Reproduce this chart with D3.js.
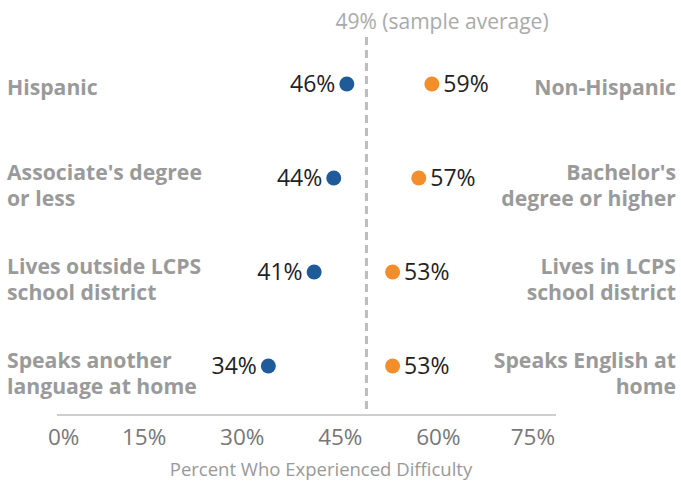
<!DOCTYPE html>
<html>
<head>
<meta charset="utf-8">
<script src="https://cdn.jsdelivr.net/npm/d3@7"></script>
<style>
  html, body { margin: 0; padding: 0; background: #fff; }
  svg { display: block; font-family: "Open Sans", sans-serif; }
</style>
</head>
<body>
<svg id="chart" width="681" height="481"></svg>
<script>
// Share of respondents who experienced difficulty, paired by demographic split
const leftLabels = [["Hispanic"], ["Associate's degree", "or less"], ["Lives outside LCPS", "school district"], ["Speaks another", "language at home"]];
const rightLabels = [["Non-Hispanic"], ["Bachelor's", "degree or higher"], ["Lives in LCPS", "school district"], ["Speaks English at", "home"]];
const leftValues = [46, 44, 41, 34];
const rightValues = [59, 57, 53, 53];
const sampleAverage = 49;
const tickValues = [0, 15, 30, 45, 60, 75];
const titleText = "Comparison of Difficulty by Group Background";
const axisTitle = "Percent Who Experienced Difficulty";

const svg = d3.select("#chart");

const x = d3.scaleLinear().domain([0, 75]).range([46, 536.5]);
const y = d3.scalePoint().domain(d3.range(leftValues.length)).range([84, 366]);
const axisY = 415;
const axisExtent = [57, 556];

const blue = "#1f5b99", orange = "#f28e2b";

// Title (runs off the top edge)
svg.append("text")
  .attr("x", 0).attr("y", -6)
  .attr("font-size", 24).attr("font-weight", 700).attr("fill", "#333")
  .text(titleText);

// Sample average reference line
svg.append("line")
  .attr("x1", x(sampleAverage)).attr("x2", x(sampleAverage))
  .attr("y1", 37).attr("y2", 413)
  .attr("stroke", "#bdbdbd").attr("stroke-width", 3)
  .attr("stroke-dasharray", "8,5");
svg.append("text")
  .attr("x", x(sampleAverage) - 31).attr("y", 29)
  .attr("font-size", 21).attr("fill", "#aaa")
  .text(`${sampleAverage}% (sample average)`);

// Axis baseline and tick labels
svg.append("line")
  .attr("x1", axisExtent[0]).attr("x2", axisExtent[1])
  .attr("y1", axisY).attr("y2", axisY)
  .attr("stroke", "#cfcfcf").attr("stroke-width", 2);

const tickG = svg.append("g");
tickValues.forEach(v => {
  const t = tickG.append("text")
    .attr("y", 445).attr("font-size", 22.5).attr("fill", "#777")
    .attr("text-anchor", "middle")
    .text(v + "%");
  const w = t.node().getComputedTextLength();
  // keep labels within the axis span
  let cx = x(v);
  cx = Math.max(cx, 48 + w / 2);
  cx = Math.min(cx, 555 - w / 2);
  t.attr("x", cx);
});

svg.append("text")
  .attr("x", 321).attr("y", 476)
  .attr("text-anchor", "middle").attr("font-size", 18.5).attr("fill", "#999")
  .text(axisTitle);

// Category labels on both sides
function drawLabels(labels, xPos, anchor) {
  labels.forEach((lines, i) => {
    const first = y(i) + 4 - (lines.length - 1) * 9;
    const t = svg.append("text")
      .attr("text-anchor", anchor)
      .attr("font-size", 21.2).attr("font-weight", 700).attr("fill", "#9a9a9a");
    lines.forEach((ln, j) => {
      t.append("tspan")
        .attr("x", xPos)
        .attr("y", first + j * 26)
        .attr("dy", "0.35em")
        .text(ln);
    });
  });
}
drawLabels(leftLabels, 7, "start");
drawLabels(rightLabels, 676, "end");

// Dots and value labels
const r = 7.5;
svg.append("g").selectAll("circle").data(leftValues).join("circle")
  .attr("cx", d => x(d)).attr("cy", (d, i) => y(i)).attr("r", r).attr("fill", blue);
svg.append("g").selectAll("circle").data(rightValues).join("circle")
  .attr("cx", d => x(d)).attr("cy", (d, i) => y(i)).attr("r", r).attr("fill", orange);

svg.append("g").selectAll("text").data(leftValues).join("text")
  .attr("x", d => x(d) - r - 4).attr("y", (d, i) => y(i)).attr("dy", "0.35em")
  .attr("text-anchor", "end").attr("font-size", 23).attr("fill", "#222")
  .text(d => d + "%");
svg.append("g").selectAll("text").data(rightValues).join("text")
  .attr("x", d => x(d) + r + 4).attr("y", (d, i) => y(i)).attr("dy", "0.35em")
  .attr("text-anchor", "start").attr("font-size", 23).attr("fill", "#222")
  .text(d => d + "%");
</script>
</body>
</html>
